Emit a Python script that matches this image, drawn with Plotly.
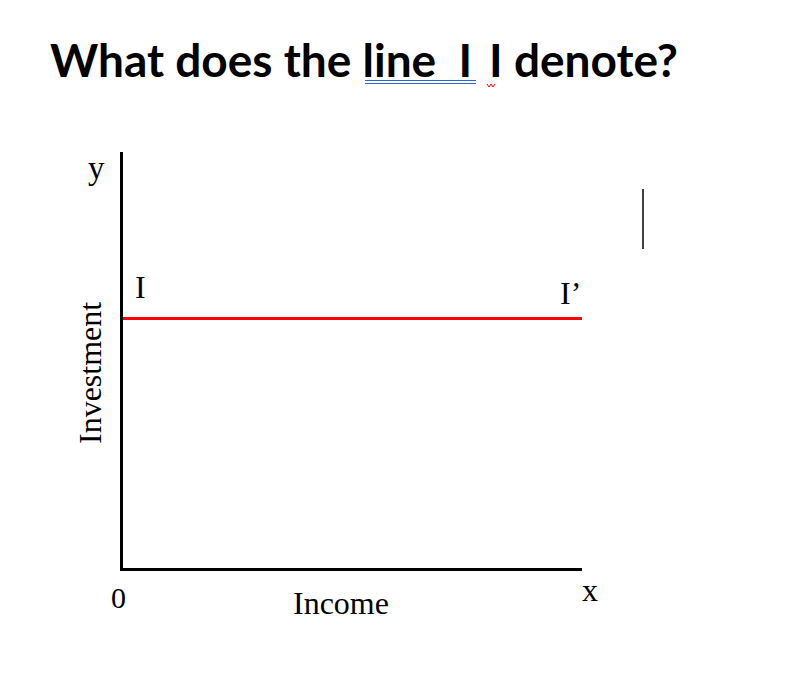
import plotly.graph_objects as go

# Data
income = [0, 10]
investment = [6, 6]
x_range = [0, 10]
y_range = [0, 10]

title_text = "What does the line\u00a0 I\u2009 I denote?"
x_label = "Income"
y_label = "Investment"

W, H = 804, 673
L, R, T, B = 123, 222, 152, 105
pw, ph = W - L - R, H - T - B

def px(xp):
    return (xp - L) / pw

def py(yp):
    return (H - B - yp) / ph

fig = go.Figure()
fig.add_trace(go.Scatter(x=income, y=investment, mode="lines",
                         line=dict(color="#ff0000", width=3), hoverinfo="skip",
                         showlegend=False))

serif = "Liberation Serif, Times New Roman, serif"

def note(text, x, y, size, ref="paper", **kw):
    d = dict(text=text, x=x, y=y, xref=ref if ref == "paper" else "x",
             yref=ref if ref == "paper" else "y", xanchor="center", yanchor="middle",
             showarrow=False, font=dict(family=serif, size=size, color="black"))
    d.update(kw)
    return d

ann = []
ann.append(dict(text="<b>" + title_text + "</b>", x=px(48), y=py(60),
                xref="paper", yref="paper", xanchor="left", yanchor="middle",
                showarrow=False, font=dict(family="Lato", size=46, color="black")))
ann.append(note("y", px(96), py(168), 33))
ann.append(note("I", 0.39, 6.75, 32, ref="data"))
ann.append(note("I’", 9.75, 6.6, 32, ref="data"))
ann.append(note("0", px(118), py(597), 30))
ann.append(note(x_label, px(341), py(603), 32))
ann.append(note("x", px(590), py(590), 32))
ann.append(note(y_label, px(90), py(373), 32, textangle=-90))

shapes = []
# blue double underline under "line"
for yy in (80.5, 83.5):
    shapes.append(dict(type="line", xref="paper", yref="paper",
                       x0=px(365), x1=px(476), y0=py(yy), y1=py(yy),
                       line=dict(color="#3366cc", width=1.2)))
# red squiggle under second I
pts = [(487, 84), (489, 87), (491, 84), (493, 87), (495, 84)]
path = "M " + " L ".join(f"{px(a)},{py(b)}" for a, b in pts)
shapes.append(dict(type="path", xref="paper", yref="paper", path=path,
                   line=dict(color="#ff0000", width=1)))
# stray vertical line on right
shapes.append(dict(type="line", xref="paper", yref="paper",
                   x0=px(643), x1=px(643), y0=py(189), y1=py(249),
                   line=dict(color="black", width=1.5)))

fig.update_layout(
    width=W, height=H,
    margin=dict(l=L, r=R, t=T, b=B),
    paper_bgcolor="white", plot_bgcolor="white",
    annotations=ann, shapes=shapes, showlegend=False,
    xaxis=dict(range=x_range, showline=True, linecolor="black", linewidth=3,
               showgrid=False, zeroline=False, showticklabels=False, ticks=""),
    yaxis=dict(range=y_range, showline=True, linecolor="black", linewidth=3,
               showgrid=False, zeroline=False, showticklabels=False, ticks=""),
)

fig.write_html("out.html", config={"displayModeBar": False})
